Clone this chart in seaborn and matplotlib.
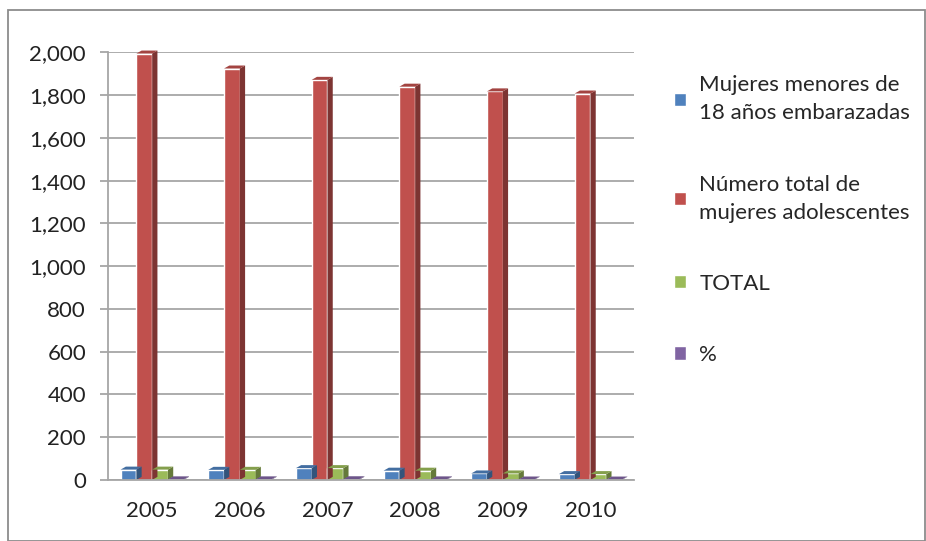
import pandas as pd
import seaborn as sns
import matplotlib.pyplot as plt
from matplotlib.patches import Polygon, Rectangle
from matplotlib.colors import to_rgb

sns.set_theme(style="white")
plt.rcParams['font.family'] = ['Lato', 'DejaVu Sans']

# data
years = ['2005', '2006', '2007', '2008', '2009', '2010']
menores = [48, 47, 55, 43, 30, 27]
adolescentes = [1995, 1925, 1872, 1840, 1818, 1808]
total = [48, 47, 55, 43, 30, 27]
porcentaje = [2.4, 2.4, 2.9, 2.3, 1.7, 1.5]

series = ['Mujeres menores de\n18 años embarazadas', 'Número total de\nmujeres adolescentes', 'TOTAL', '%']
colors = ['#4F81BD', '#C0504D', '#9BBB59', '#8064A2']

df = pd.DataFrame({'Año': years * 4,
                   'Serie': sum([[s] * len(years) for s in series], []),
                   'Valor': menores + adolescentes + total + porcentaje})

fig = plt.figure(figsize=(9.26, 5.41), dpi=100)
ax = fig.add_axes([0.117, 0.113, 0.568, 0.79])

sns.barplot(data=df, x='Año', y='Valor', hue='Serie', palette=colors,
            width=0.72, gap=0, saturation=1, ax=ax, legend=False)

ax.set_ylim(0, 2000)
ax.set_xlim(-0.5, 5.5)

# fake 3D depth: side and top faces for each bar
dx, dy = 0.06, 14
for i, cont in enumerate(ax.containers):
    base = to_rgb(colors[i])
    side = tuple(c * 0.65 for c in base)
    top = tuple(min(1, c * 0.85) for c in base)
    for p in cont.patches:
        x, y, w, h = p.get_x(), p.get_y(), p.get_width(), p.get_height()
        ax.add_patch(Polygon([(x + w, y), (x + w + dx, y + dy), (x + w + dx, y + h + dy), (x + w, y + h)],
                             closed=True, facecolor=side, edgecolor='none', zorder=p.get_zorder(), clip_on=False))
        ax.add_patch(Polygon([(x, y + h), (x + dx, y + h + dy), (x + w + dx, y + h + dy), (x + w, y + h)],
                             closed=True, facecolor=top, edgecolor='none', zorder=p.get_zorder(), clip_on=False))

ax.set_yticks(range(0, 2001, 200))
ax.set_yticklabels([f'{v:,}' for v in range(0, 2001, 200)], fontsize=16, color='#222222')
ax.yaxis.grid(True, color='#A6A6A6', linewidth=1.3)
ax.set_axisbelow(True)
ax.set_xticks(range(len(years)))
ax.set_xticklabels(years, fontsize=16, color='#222222')
ax.set_xticks([i - 0.5 for i in range(len(years) + 1)], minor=True)
ax.tick_params(axis='x', which='major', length=0, pad=15)
ax.tick_params(axis='x', which='minor', length=6, color='#A6A6A6', width=1.3, direction='out')
ax.tick_params(axis='y', length=6, color='#A6A6A6', width=1.3, direction='out', left=True, pad=10)
ax.set_xlabel('')
ax.set_ylabel('')
for s in ['top', 'right']:
    ax.spines[s].set_visible(False)
for s in ['left', 'bottom']:
    ax.spines[s].set_color('#A6A6A6')
    ax.spines[s].set_linewidth(1.3)

handles = [Rectangle((0, 0), 1, 1, facecolor=c) for c in colors]
leg = fig.legend(handles, series, loc='upper left', bbox_to_anchor=(0.718, 0.877), frameon=False,
                 fontsize=16, handlelength=0.55, handleheight=0.55, handletextpad=0.6,
                 labelspacing=2.3, borderaxespad=0)
for t in leg.get_texts():
    t.set_linespacing(1.5)

fig.patches.append(Rectangle((0.009, 0.0), 0.99, 0.982, transform=fig.transFigure,
                             fill=False, edgecolor='#8C8C8C', linewidth=1.3))

fig.savefig('out.png', dpi=100)
